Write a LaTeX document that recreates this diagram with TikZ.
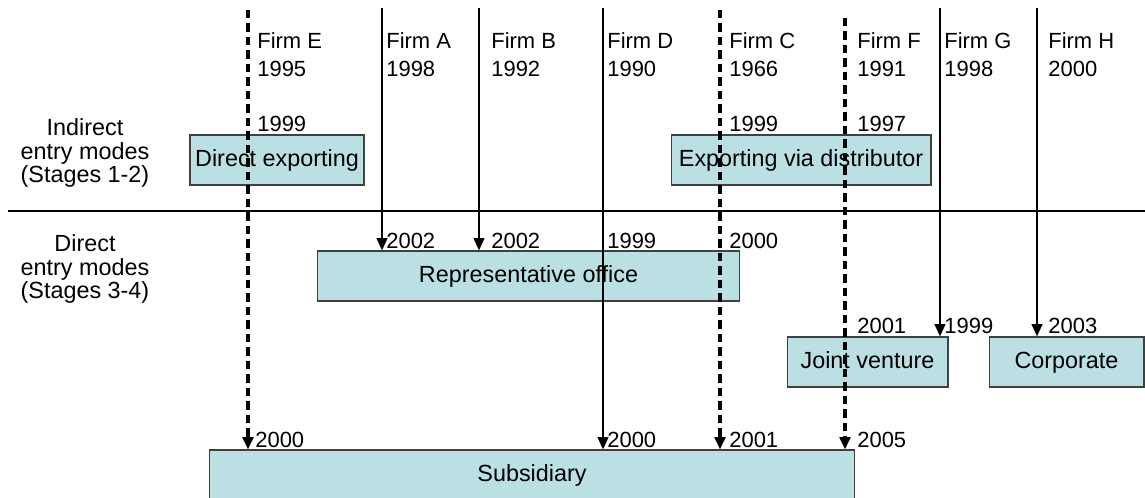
\documentclass[tikz,border=0pt]{standalone}
\usepackage{fontspec}
\setmainfont{Liberation Sans}
\usetikzlibrary{arrows.meta}
\definecolor{boxfill}{HTML}{BBE0E3}
\begin{document}
\begin{tikzpicture}[x=0.02cm,y=-0.02cm,
  font=\fontsize{12.5}{13.3}\selectfont,
  big/.style={font=\fontsize{13.3}{13.3}\selectfont},
  box/.style={big, draw=black!75, line width=0.6pt, fill=boxfill, inner sep=0pt, minimum height=1cm, text height=0.9em, text depth=0.21em},
  lbl/.style={anchor=base west, inner sep=0pt},
  tip/.style={-{Triangle[length=7pt,width=6pt]}},
  solidline/.style={line width=1.3pt, tip},
  dashline/.style={line width=1.9pt, dash pattern=on 0.17cm off 0.1cm, tip},
  rule/.style={line width=1.2pt}]
\useasboundingbox (0,0) rectangle (1145,497);

% boxes
\node[box, minimum width=3.48cm] (dexp) at (277,160) {Direct exporting};
\node[box, minimum width=5.2cm] (evd) at (801,160) {Exporting via distributor};
\node[box, minimum width=8.46cm] (rep) at (528.5,276) {Representative office};
\node[box, minimum width=3.22cm] (jv) at (867.5,362) {Joint venture};
\node[box, minimum width=3.1cm] (corp) at (1066.5,362) {Corporate};
\node[box, minimum width=12.92cm] (sub) at (532,475) {Subsidiary};

% left labels
\node[big, align=center] (ind) at (85,153) {Indirect\\entry modes\\(Stages 1-2)};
\node[big, align=center] (dir) at (85,269) {Direct\\entry modes\\(Stages 3-4)};

% horizontal rule
\coordinate (hl1) at (8,211);
\coordinate (hl2) at (1145,211);
\draw[rule] (hl1) -- (hl2);

% firm line tops
\coordinate (tE) at (248,10);
\coordinate (tA) at (382,8);
\coordinate (tB) at (479,8);
\coordinate (tD) at (603,8);
\coordinate (tC) at (720,10);
\coordinate (tF) at (845,18);
\coordinate (tG) at (940,8);
\coordinate (tH) at (1037,8);

\draw[dashline] (tE) -- (tE |- sub.north);
\draw[solidline] (tA) -- (tA |- rep.north);
\draw[solidline] (tB) -- (tB |- rep.north);
\draw[solidline] (tD) -- (tD |- sub.north);
\draw[dashline] (tC) -- (tC |- sub.north);
\draw[dashline] (tF) -- (tF |- sub.north);
\draw[solidline] (tG) -- (tG |- jv.north);
\draw[solidline] (tH) -- (tH |- corp.north);

% firm labels
\node[lbl] (fE) at (257,48) {Firm E};
\node[lbl] (yE) at (257,76) {1995};
\node[lbl] (fA) at (386,48) {Firm A};
\node[lbl] (yA) at (386,76) {1998};
\node[lbl] (fB) at (491,48) {Firm B};
\node[lbl] (yB) at (491,76) {1992};
\node[lbl] (fD) at (607,48) {Firm D};
\node[lbl] (yD) at (607,76) {1990};
\node[lbl] (fC) at (729,48) {Firm C};
\node[lbl] (yC) at (729,76) {1966};
\node[lbl] (fF) at (857,48) {Firm F};
\node[lbl] (yF) at (857,76) {1991};
\node[lbl] (fG) at (944,48) {Firm G};
\node[lbl] (yG) at (944,76) {1998};
\node[lbl] (fH) at (1048,48) {Firm H};
\node[lbl] (yH) at (1048,76) {2000};

% year labels
\node[lbl] (e1) at (257,131) {1999};
\node[lbl] (c1) at (729,131) {1999};
\node[lbl] (f1) at (857,131) {1997};
\node[lbl] (a2) at (386,248) {2002};
\node[lbl] (b2) at (491,248) {2002};
\node[lbl] (d2) at (607,248) {1999};
\node[lbl] (c2) at (729,248) {2000};
\node[lbl] (f3) at (857,333) {2001};
\node[lbl] (g3) at (944,333) {1999};
\node[lbl] (h3) at (1048,333) {2003};
\node[lbl] (e4) at (255,447) {2000};
\node[lbl] (d4) at (607,447) {2000};
\node[lbl] (c4) at (729,447) {2001};
\node[lbl] (f4) at (857,447) {2005};
\end{tikzpicture}
\end{document}
